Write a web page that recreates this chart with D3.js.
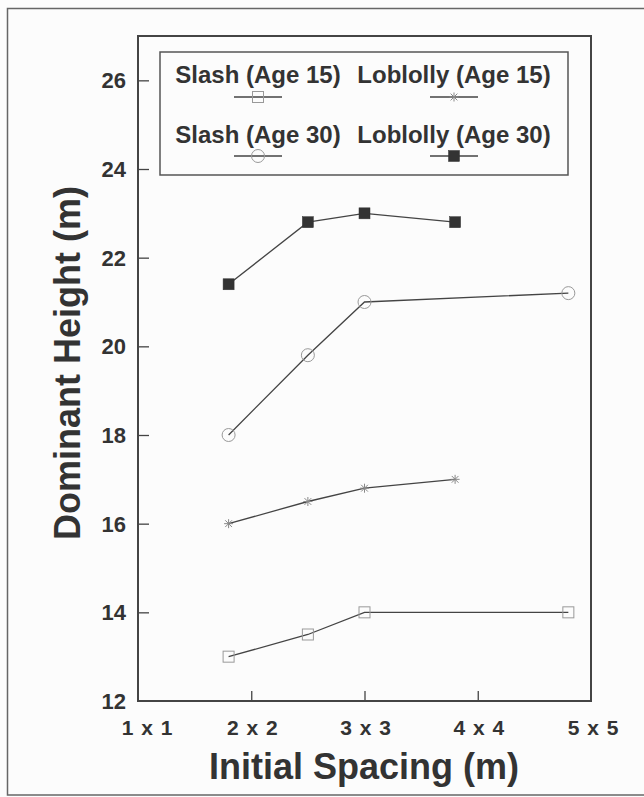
<!DOCTYPE html>
<html><head><meta charset="utf-8">
<script src="https://cdn.jsdelivr.net/npm/d3@7"></script>
<style>
html,body{margin:0;padding:0;background:#fcfcfc;}
svg{display:block;}
text{font-family:"Liberation Sans",Arial,Helvetica,sans-serif;font-weight:bold;fill:#333;}
</style></head>
<body>
<script>
// ---- data ----
const spacingSlash = [1.8, 2.5, 3.0, 4.8];
const spacingLoblolly = [1.8, 2.5, 3.0, 3.8];
const slash15 = [13.0, 13.5, 14.0, 14.0];
const loblolly15 = [16.0, 16.5, 16.8, 17.0];
const slash30 = [18.0, 19.8, 21.0, 21.2];
const loblolly30 = [21.4, 22.8, 23.0, 22.8];
const xTickValues = [1, 2, 3, 4, 5];
const xTickLabels = ["1 x 1", "2 x 2", "3 x 3", "4 x 4", "5 x 5"];
const yTickValues = [12, 14, 16, 18, 20, 22, 24, 26];
const seriesNames = ["Slash (Age 15)", "Loblolly (Age 15)", "Slash (Age 30)", "Loblolly (Age 30)"];

const series = [
  {name: seriesNames[0], xs: spacingSlash, ys: slash15, marker: "square"},
  {name: seriesNames[1], xs: spacingLoblolly, ys: loblolly15, marker: "star"},
  {name: seriesNames[2], xs: spacingSlash, ys: slash30, marker: "circle"},
  {name: seriesNames[3], xs: spacingLoblolly, ys: loblolly30, marker: "filled"}
];

const W = 644, H = 797;
const svg = d3.select("body").append("svg").attr("width", W).attr("height", H);

// outer frame
svg.append("rect").attr("x", 7.5).attr("y", 8.5).attr("width", 700).attr("height", 786.5)
  .attr("fill", "none").attr("stroke", "#666").attr("stroke-width", 1.5);

const L = 138, R = 591, T = 36, B = 701;
const x = d3.scaleLinear().domain([1, 5]).range([L, R]);
const y = d3.scaleLinear().domain([12, 27]).range([B, T]);

// axes (inward ticks)
const gy = svg.append("g").attr("transform", `translate(${L},0)`)
  .call(d3.axisRight(y).tickValues(yTickValues).tickSize(11).tickFormat(""));
gy.select(".domain").remove();
gy.selectAll("line").attr("stroke", "#444").attr("stroke-width", 1.3);
gy.selectAll(".tick").filter(d => d === 12).remove();

const gx = svg.append("g").attr("transform", `translate(0,${B})`)
  .call(d3.axisTop(x).tickValues(xTickValues.filter(v => v > 1 && v < 5)).tickSize(10).tickFormat(""));
gx.select(".domain").remove();
gx.selectAll("line").attr("stroke", "#444").attr("stroke-width", 1.3);

// y tick labels
svg.append("g").selectAll("text").data(yTickValues).join("text")
  .attr("x", 126).attr("y", d => y(d)).attr("dy", "0.36em")
  .attr("text-anchor", "end").attr("font-size", 22).text(d => d);

// x tick labels
svg.append("g").selectAll("text").data(xTickValues).join("text")
  .attr("x", (d, i) => x(d) + (i === 0 ? 9 : (i === 4 ? 2 : 1)))
  .attr("y", 735).attr("text-anchor", "middle").attr("font-size", 21)
  .attr("word-spacing", "2px")
  .text((d, i) => xTickLabels[i]);

// axis titles
svg.append("text").attr("x", 364).attr("y", 779).attr("text-anchor", "middle")
  .attr("font-size", 36).text("Initial Spacing (m)");
svg.append("text").attr("transform", "translate(80,363) rotate(-90)")
  .attr("text-anchor", "middle").attr("font-size", 36).text("Dominant Height (m)");

// plot frame
svg.append("rect").attr("x", L).attr("y", T).attr("width", R - L).attr("height", B - T)
  .attr("fill", "none").attr("stroke", "#444").attr("stroke-width", 2);

// markers
function drawMarker(g, type, cx, cy) {
  if (type === "square") {
    g.append("rect").attr("x", cx - 5.5).attr("y", cy - 5.5).attr("width", 11).attr("height", 11)
      .attr("fill", "none").attr("stroke", "#999").attr("stroke-width", 1);
  } else if (type === "circle") {
    g.append("circle").attr("cx", cx).attr("cy", cy).attr("r", 6.5)
      .attr("fill", "none").attr("stroke", "#999").attr("stroke-width", 1);
  } else if (type === "filled") {
    g.append("rect").attr("x", cx - 5.5).attr("y", cy - 5.5).attr("width", 11).attr("height", 11)
      .attr("fill", "#333").attr("stroke", "#333").attr("stroke-width", 0.5);
  } else if (type === "star") {
    const s = 4.5;
    const p = `M${cx - s},${cy}L${cx + s},${cy}M${cx},${cy - s}L${cx},${cy + s}` +
      `M${cx - s * 0.75},${cy - s * 0.75}L${cx + s * 0.75},${cy + s * 0.75}` +
      `M${cx - s * 0.75},${cy + s * 0.75}L${cx + s * 0.75},${cy - s * 0.75}`;
    g.append("path").attr("d", p).attr("fill", "none").attr("stroke", "#888").attr("stroke-width", 1);
  }
}

const line = d3.line().x(d => x(d[0])).y(d => y(d[1]));
const plot = svg.append("g");
series.forEach(s => {
  const pts = s.xs.map((v, i) => [v, s.ys[i]]);
  plot.append("path").datum(pts).attr("d", line)
    .attr("fill", "none").attr("stroke", "#444").attr("stroke-width", 1.3);
  pts.forEach(p => drawMarker(plot, s.marker, x(p[0]), y(p[1])));
});

// legend
const lg = svg.append("g");
lg.append("rect").attr("x", 160).attr("y", 52).attr("width", 408).attr("height", 123)
  .attr("fill", "none").attr("stroke", "#555").attr("stroke-width", 1.5);
const legendPos = [
  {cx: 258, ty: 83, sy: 97},
  {cx: 454, ty: 83, sy: 97},
  {cx: 258, ty: 143, sy: 156},
  {cx: 454, ty: 143, sy: 156}
];
series.forEach((s, i) => {
  const p = legendPos[i];
  lg.append("text").attr("x", p.cx).attr("y", p.ty).attr("text-anchor", "middle")
    .attr("font-size", 24).text(s.name);
  lg.append("line").attr("x1", p.cx - 24).attr("x2", p.cx + 24).attr("y1", p.sy).attr("y2", p.sy)
    .attr("stroke", "#444").attr("stroke-width", 1.3);
  drawMarker(lg, s.marker, p.cx, p.sy);
});
</script>
</body></html>
